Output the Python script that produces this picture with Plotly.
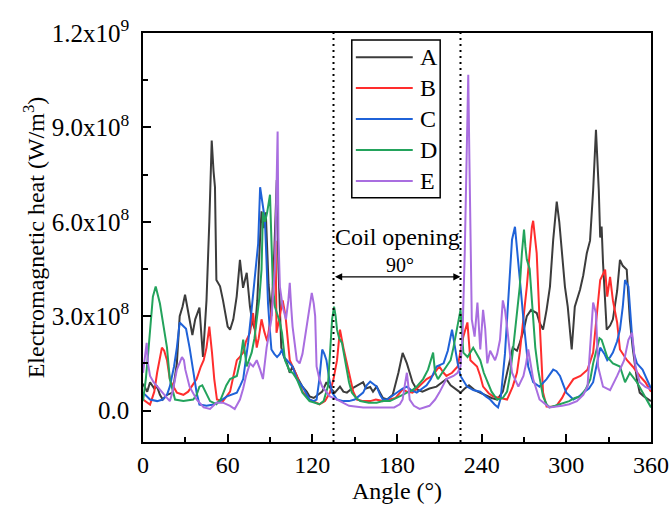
import numpy as np
import plotly.graph_objects as go

# values, heat in units of 1e8 W/m^3
a_ang = [0, 3, 5, 8, 10, 12, 14, 17, 21, 24, 26, 28, 29.8, 32, 35, 37, 40, 42.5, 45, 47, 48.7, 50, 51, 52,
         54.6, 56.7, 58, 60, 61.7, 64, 66.4, 68.7, 70.9, 73.5, 75.8, 77.5, 79.4, 81, 83, 84, 85.5, 87, 89, 91,
         93, 94.8, 96, 98, 100, 102, 104, 106, 110, 113, 116, 118, 121, 124, 127, 130, 133, 136, 139.6, 142,
         144.5, 148, 152, 156, 158, 161, 163, 165.6, 170, 173, 177, 181, 184, 187, 189, 191, 194, 198, 203,
         208, 212, 215, 218, 221, 225, 228, 231, 235, 239, 243, 247, 251, 255, 258, 262, 265, 267, 270, 272,
         275, 279, 281, 283.5, 286, 288.4, 290.7, 293.2, 295, 296.8, 299, 301, 303.8, 306, 309.7, 312, 314.5,
         316.8, 319, 321, 323, 324, 325, 326, 328.6, 331, 333, 336, 338, 340, 342.8, 345, 347, 350, 352, 355,
         359, 360]
a_val = [0.85, 0.6, 0.9, 0.7, 0.76, 0.5, 0.35, 0.5, 0.57, 1.5, 3.0, 3.3, 3.68, 3.1, 2.4, 2.9, 3.27, 1.7, 3.5,
         6.0, 8.58, 7.6, 7.1, 4.15, 3.95, 3.5, 3.2, 2.67, 2.57, 2.9, 3.63, 4.79, 3.9, 4.38, 3.3, 2.8, 2.57, 3.5,
         5.5, 6.33, 5.8, 6.3, 4.0, 3.0, 5.0, 7.33, 4.5, 2.0, 1.7, 1.5, 1.2, 1.4, 1.0, 0.76, 0.6, 0.45, 0.4, 0.5,
         0.6, 0.9, 0.7, 0.57, 0.76, 0.6, 0.57, 0.7, 0.8, 0.9, 0.7, 0.75, 0.6, 0.76, 0.4, 0.35, 0.5, 1.2, 1.83,
         1.5, 1.2, 0.9, 0.67, 0.6, 0.7, 0.76, 0.9, 1.0, 0.8, 0.7, 0.57, 0.7, 0.8, 0.65, 0.57, 0.5, 0.4, 0.35,
         0.6, 1.2, 2.0, 1.9, 2.15, 2.6, 3.0, 3.2, 3.1, 2.8, 2.57, 3.2, 3.94, 5.43, 6.64, 6.0, 5.0, 3.94, 3.3,
         1.94, 3.3, 3.84, 4.3, 5.0, 5.4, 7.0, 8.92, 7.0, 5.5, 5.85, 4.7, 2.57, 2.7, 2.9, 3.8, 4.79, 4.6, 4.48,
         2.9, 2.0, 1.0, 0.57, 0.45, 0.35, 0.3]

b_ang = [0, 3, 5, 8, 10, 13.4, 15, 17, 19, 21, 24, 28.6, 32, 35, 38, 41, 43, 45, 47, 48.9, 50.5, 52.4, 56.7,
         61.7, 64, 66.5, 68.5, 71, 73, 75.8, 78, 80.6, 82, 84, 86, 88, 90, 92, 94, 94.6, 96.5, 99, 101, 102.5,
         104, 106, 109, 113, 118, 125, 129, 132.5, 135, 137.5, 139.6, 142, 144, 146.7, 149, 151.6, 156, 161,
         165, 170, 175, 179, 184, 187, 191, 196, 201, 205, 210, 213, 215, 219, 223, 227, 229.9, 232, 236.7,
         239, 241, 245, 248, 253, 258, 262, 265, 267, 270, 272, 274, 275.6, 276.5, 279, 281, 283.5, 286, 290,
         293, 297, 300, 305, 310, 315, 319, 321, 324, 327.5, 329, 331, 333, 336, 338, 343, 347, 352, 356, 360]
b_val = [0.35, 0.25, 0.19, 0.6, 1.2, 2.0, 1.9, 1.6, 1.0, 0.8, 0.57, 0.5, 0.6, 0.8, 1.0, 1.4, 1.6, 2.0, 2.67,
         1.84, 1.0, 0.35, 0.3, 0.6, 1.1, 1.6, 1.7, 1.84, 2.2, 2.47, 3.1, 2.0, 2.3, 2.9, 2.5, 2.2, 2.8, 3.5, 5.4,
         2.47, 2.9, 3.5, 3.0, 2.2, 1.6, 1.4, 1.1, 0.6, 0.35, 0.2, 0.3, 0.57, 1.0, 1.6, 2.57, 2.0, 1.6, 1.1, 0.6,
         0.35, 0.3, 0.3, 0.35, 0.3, 0.35, 0.4, 0.67, 0.6, 0.57, 0.8, 1.0, 1.1, 1.4, 1.2, 1.1, 1.2, 1.4, 2.35,
         2.8, 1.6, 1.4, 1.1, 0.76, 0.55, 0.45, 0.4, 0.35, 0.76, 1.2, 1.84, 3.0, 3.94, 5.0, 5.84, 6.03, 5.0, 2.9,
         0.57, 0.13, 0.12, 0.15, 0.4, 0.67, 1.0, 1.1, 1.3, 1.84, 2.8, 4.15, 4.48, 3.62, 4.25, 3.5, 2.8, 1.94,
         1.6, 1.4, 1.1, 0.9, 0.6]

c_ang = [0, 5, 10, 14, 17, 19, 22, 24, 26, 28.6, 30.5, 33, 35.6, 38, 40, 45, 50, 54.6, 59.5, 63, 66.5, 69, 71,
         72.5, 74.5, 76.5, 78, 80, 81.6, 83, 84, 85, 86.4, 87.5, 88.6, 90, 91, 93, 95, 97, 98.5, 100, 102, 104,
         106, 109, 113, 118, 121, 123, 125, 127, 128.5, 130, 132, 134, 137.5, 142, 146, 150, 153, 156, 158.5,
         161, 163, 165.6, 168, 170, 173, 176, 180, 184, 187, 190, 194, 198, 201, 204, 208, 213, 216, 219, 221,
         223, 225, 229.6, 234, 239, 243, 246, 249, 251.6, 253.5, 255, 256.5, 258, 260, 261.5, 263.6, 266,
         267.8, 269.6, 271.5, 273, 276.5, 281, 286, 290.7, 293, 295.5, 298, 300, 305, 309, 312, 316, 319,
         321.5, 324, 327, 329, 331, 333, 336, 338, 340, 341.6, 344, 345.5, 346.6, 348, 350, 354, 357, 360]
c_val = [0.57, 0.35, 0.3, 0.35, 0.5, 0.76, 1.4, 2.0, 2.8, 2.7, 2.6, 2.0, 1.2, 0.57, 0.19, 0.15, 0.19, 0.3,
         0.45, 0.5, 0.57, 0.8, 1.0, 1.5, 2.15, 3.0, 3.74, 4.6, 5.3, 7.1, 6.8, 6.4, 6.06, 4.8, 3.4, 2.5, 1.94,
         1.8, 1.7, 1.8, 1.94, 1.7, 1.6, 1.5, 1.4, 1.0, 0.76, 0.35, 0.3, 0.35, 1.0, 1.94, 1.8, 1.6, 1.0, 0.57,
         0.35, 0.3, 0.3, 0.35, 0.45, 0.57, 0.8, 0.92, 0.85, 0.76, 0.5, 0.35, 0.35, 0.45, 0.57, 0.7, 0.76, 0.65,
         0.57, 0.7, 0.8, 1.0, 1.4, 1.5, 1.9, 2.57, 2.0, 1.5, 1.1, 0.76, 0.65, 0.6, 0.45, 0.35, 0.2, 0.1, 0.4,
         1.0, 1.8, 2.9, 4.2, 5.43, 5.84, 4.8, 3.8, 2.9, 2.0, 1.4, 0.9, 0.76, 1.0, 1.3, 1.25, 1.1, 0.8, 0.57,
         0.35, 0.45, 0.57, 0.7, 0.9, 1.5, 2.0, 1.8, 1.6, 1.7, 1.84, 2.2, 2.57, 3.3, 4.15, 3.94, 3.0, 2.35, 1.8,
         1.5, 1.3, 1.0, 0.7]

d_ang = [0, 2, 3.7, 5.5, 7, 9, 10.5, 12, 14.5, 17, 19, 21, 22.7, 28.6, 35.6, 38, 40, 42, 44, 47.5, 52, 55, 57,
         59, 61.7, 64, 66.5, 69, 71, 73.5, 75, 77, 79, 80.6, 82.5, 84, 85, 86.5, 88, 90, 91, 92, 93.5, 95.4, 97,
         98.5, 100.6, 104, 106, 109, 111, 113, 118, 125, 128, 131, 132.5, 134, 135.4, 136.5, 137.5, 139, 141,
         143, 144.5, 146, 148, 151, 154, 160, 165.6, 170, 175, 180, 184, 187, 191, 194, 198.5, 202, 205.6, 207,
         209, 212, 215, 218, 220, 223, 225, 227, 230, 234, 239, 241.5, 244, 247, 251, 255, 258, 260, 262,
         264.5, 267, 268.5, 270, 271, 272, 274, 275.5, 276.5, 278, 280, 283.5, 286, 288, 292, 295, 302, 306,
         310, 314, 317, 319, 321.6, 323.5, 325, 327, 329, 333, 338, 341.6, 345, 350, 354, 357, 360]
d_val = [0.3, 1.0, 1.84, 2.9, 3.62, 3.94, 3.7, 3.4, 2.7, 2.0, 1.0, 0.6, 0.35, 0.3, 0.35, 0.5, 0.76, 0.8, 0.6,
         0.3, 0.2, 0.35, 0.57, 0.8, 1.0, 1.05, 1.1, 1.6, 2.25, 1.4, 1.6, 1.84, 2.3, 2.9, 3.6, 4.48, 6.3, 6.0,
         6.3, 6.86, 5.0, 4.0, 3.3, 3.0, 2.8, 2.47, 1.6, 1.25, 1.2, 1.0, 0.8, 0.57, 0.3, 0.2, 0.3, 0.76, 1.8,
         2.9, 3.3, 3.0, 2.57, 2.3, 2.15, 1.6, 1.3, 0.9, 0.57, 0.4, 0.3, 0.25, 0.25, 0.3, 0.3, 0.4, 0.5, 0.57,
         0.65, 0.76, 1.0, 1.3, 1.84, 1.2, 1.0, 1.2, 1.4, 1.6, 2.0, 2.8, 3.2, 1.84, 1.7, 2.0, 1.6, 1.2, 0.9,
         0.6, 0.35, 0.4, 0.6, 1.1, 1.84, 2.8, 3.94, 5.0, 5.75, 5.2, 4.8, 4.5, 3.5, 2.9, 2.0, 1.3, 0.45, 0.2,
         0.1, 0.15, 0.2, 0.3, 0.4, 0.45, 0.7, 1.0, 1.5, 2.0, 2.3, 2.25, 2.0, 1.7, 1.5, 1.4, 0.9, 1.2, 0.9,
         0.57, 0.3, 0.1]

e_ang = [0, 1.5, 2.6, 3.5, 5, 7.5, 10, 14, 17, 19, 21, 24, 26, 27.6, 29, 30, 33, 38, 43, 47.5, 52, 56.7, 61.7,
         65, 68.7, 71, 73, 75.8, 78, 80.6, 83, 85, 87.6, 89.5, 91, 93.5, 94.5, 95.4, 96, 97, 99, 101.3, 103,
         104, 105, 106, 109, 111, 113, 115, 117, 119.6, 121, 122, 123, 125, 127, 132.5, 137.5, 142, 146, 156,
         170, 178, 182, 184, 185.5, 187, 188, 189, 192, 196, 203, 207, 210, 215, 220, 223, 225, 226.5, 228,
         229.5, 230.5, 231.3, 232, 233, 235, 237, 239, 241, 242.5, 244, 246, 249.5, 251, 253, 255, 256.5, 258,
         260, 261.5, 266, 269.6, 271.5, 273, 275, 276.5, 281, 288, 297, 302, 307.5, 312, 315, 317, 319, 321,
         322.5, 326, 331, 336, 341, 344, 346.6, 349, 352, 356, 360]
e_val = [1.2, 1.7, 2.15, 1.5, 1.1, 0.9, 0.76, 0.57, 0.4, 0.3, 0.6, 1.3, 1.5, 1.7, 1.6, 1.3, 0.76, 0.35, 0.1,
         0.05, 0.25, 0.25, 0.15, 0.05, 0.35, 0.7, 1.1, 1.5, 1.4, 1.6, 1.3, 1.0, 2.0, 2.5, 2.9, 4.5, 7.0, 8.87,
         5.5, 3.94, 3.3, 2.9, 3.5, 4.06, 3.3, 2.67, 1.6, 1.5, 1.8, 2.35, 3.0, 3.74, 3.4, 3.0, 1.4, 1.0, 0.76,
         0.45, 0.35, 0.25, 0.15, 0.1, 0.1, 0.1, 0.2, 0.35, 0.8, 1.2, 0.8, 0.35, 0.15, 0.05, 0.15, 0.35, 0.57,
         1.0, 1.1, 1.2, 1.4, 2.5, 5.0, 9.0, 10.67, 8.0, 5.4, 2.9, 2.35, 3.43, 1.94, 3.2, 2.6, 1.5, 1.9, 1.6,
         1.8, 2.25, 3.5, 3.2, 2.67, 1.8, 1.2, 0.76, 1.1, 1.5, 1.94, 1.4, 1.0, 0.35, 0.1, 0.15, 0.2, 0.3, 0.5,
         0.76, 2.0, 3.43, 3.1, 1.4, 0.76, 0.65, 1.1, 1.6, 2.25, 2.47, 1.4, 0.9, 0.75, 0.67]

names = ["A", "B", "C", "D", "E"]
colors = ["#3c3c3c", "#ff2d2d", "#1f62d8", "#23a35c", "#a96ee0"]
series = [(a_ang, a_val), (b_ang, b_val), (c_ang, c_val), (d_ang, d_val), (e_ang, e_val)]

y_ticks = [0, 3e8, 6e8, 9e8, 1.2e9]
y_text = ["0.0", "3.0x10<sup>8</sup>", "6.0x10<sup>8</sup>", "9.0x10<sup>8</sup>", "1.2x10<sup>9</sup>"]

FONT = "Liberation Serif, Times New Roman, serif"

fig = go.Figure()
for (ang, val), nm, col in zip(series, names, colors):
    fig.add_trace(go.Scatter(x=ang, y=np.array(val) * 1e8, mode="lines", name=nm,
                             line=dict(color=col, width=2), showlegend=False))

# coil opening markers
for xv in [135, 225]:
    fig.add_shape(type="line", x0=xv, x1=xv, y0=0, y1=1, xref="x", yref="paper",
                  line=dict(color="black", width=2, dash="2px,4px"))

fig.add_annotation(x=225, y=4.25e8, ax=135, ay=4.25e8, xref="x", yref="y", axref="x", ayref="y",
                   text="", showarrow=True, arrowhead=2, arrowside="end+start", arrowsize=1.2,
                   arrowwidth=1.2, arrowcolor="black")
fig.add_annotation(x=180, y=5.52e8, text="Coil opening", showarrow=False,
                   font=dict(family=FONT, size=24, color="black"))
fig.add_annotation(x=182, y=4.63e8, text="90°", showarrow=False,
                   font=dict(family=FONT, size=20, color="black"))

# hand-drawn legend box
fig.add_shape(type="rect", xref="paper", yref="paper", x0=0.411, x1=0.585, y0=0.597, y1=0.983,
              line=dict(color="black", width=1.5), fillcolor="white")
leg_y = [0.941, 0.8655, 0.790, 0.714, 0.638]
for nm, col, ly in zip(names, colors, leg_y):
    fig.add_shape(type="line", xref="paper", yref="paper", x0=0.419, x1=0.531, y0=ly, y1=ly,
                  line=dict(color=col, width=2))
    fig.add_annotation(xref="paper", yref="paper", x=0.541, y=ly, text=nm, showarrow=False,
                       xanchor="left", yanchor="middle", font=dict(family=FONT, size=24, color="black"))

fig.update_layout(
    width=671, height=505,
    margin=dict(l=143, r=20, t=33, b=63),
    paper_bgcolor="white", plot_bgcolor="white",
    font=dict(family=FONT, size=24, color="black"),
)
fig.update_xaxes(
    range=[0, 360], tickvals=[0, 60, 120, 180, 240, 300, 360], automargin=False,
    ticks="inside", ticklen=8, tickwidth=1.5, tickcolor="black",
    minor=dict(tickvals=[30, 90, 150, 210, 270, 330], ticks="inside", ticklen=5, tickcolor="black"),
    showline=True, linecolor="black", linewidth=1.5, mirror=True, showgrid=False, zeroline=False,
    title=dict(text="Angle (°)", font=dict(size=24), standoff=0),
    tickfont=dict(size=24),
)
fig.update_yaxes(
    range=[-1e8, 1.2e9], tickvals=y_ticks, ticktext=y_text, automargin=False,
    ticks="inside", ticklen=8, tickwidth=1.5, tickcolor="black", ticklabelstandoff=7,
    minor=dict(tickvals=[1.5e8, 4.5e8, 7.5e8, 1.05e9], ticks="inside", ticklen=5, tickcolor="black"),
    showline=True, linecolor="black", linewidth=1.5, mirror=True, showgrid=False, zeroline=False,
    title=dict(text="Electromagnetic heat (W/m<sup>3</sup>)", font=dict(size=24), standoff=0),
    tickfont=dict(size=25),
)

# drop the default page margin so the figure sits at the window corner
fig.write_html("out.html", config={"displayModeBar": False},
               post_script="document.body.style.margin='0';document.body.style.overflow='hidden';")
